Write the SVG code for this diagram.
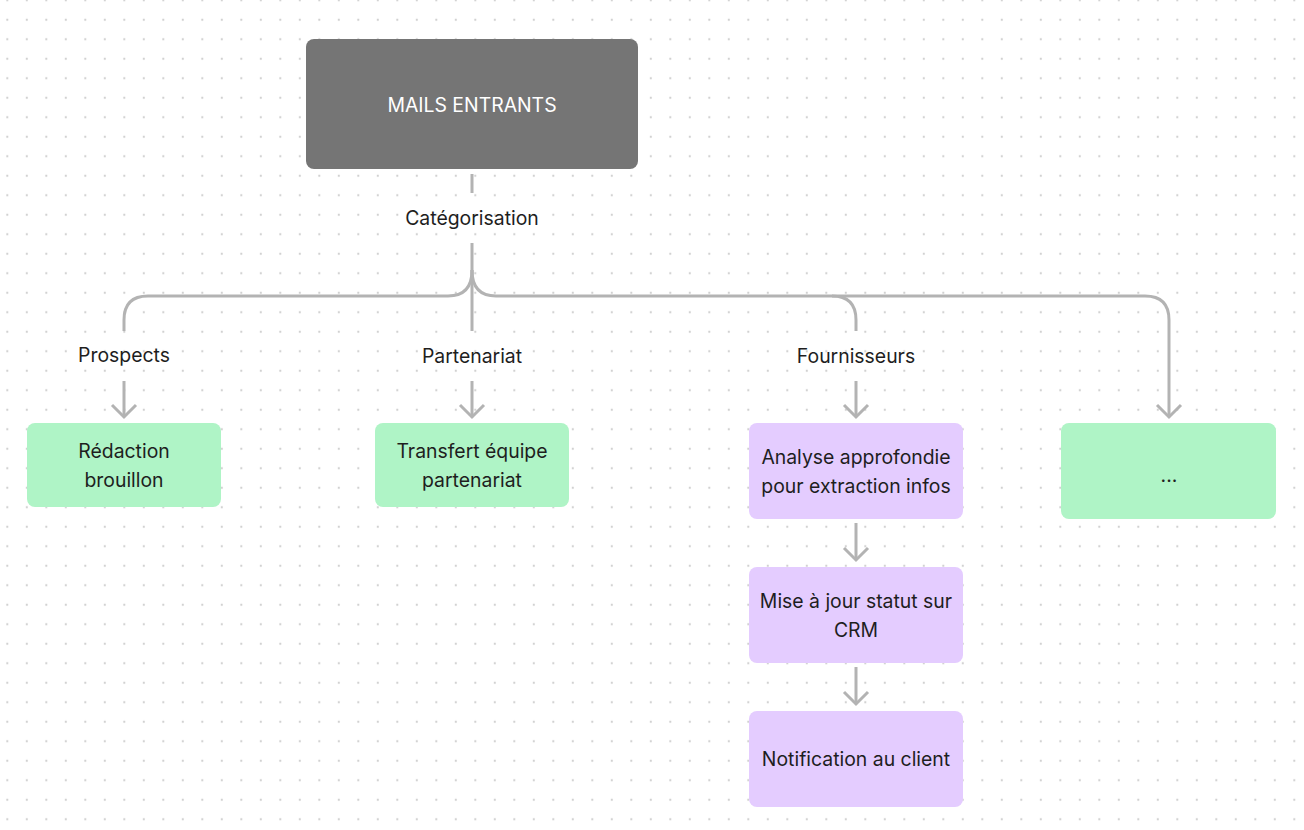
<svg xmlns="http://www.w3.org/2000/svg" width="1304" height="830" viewBox="0 0 1304 830">
<defs>
<pattern id="dots" patternUnits="userSpaceOnUse" x="-2.45" y="-9.45" width="19.5" height="19.5">
<circle cx="9.75" cy="9.75" r="1.1" fill="#cfcfcf"/>
</pattern>
<style>
.bg{fill:url(#dots)}
.link{fill:none;stroke:#b3b3b3;stroke-width:3;stroke-linecap:butt;stroke-linejoin:round}
.head{fill:none;stroke:#b3b3b3;stroke-width:3;stroke-linejoin:miter}
.lbl{font-family:Inter,"Liberation Sans",sans-serif;font-size:19.4px;fill:#1e1e1e;text-anchor:middle;dominant-baseline:central}
.t{font-family:Inter,"Liberation Sans",sans-serif;font-size:19.4px;fill:#1e1e1e;text-anchor:middle;dominant-baseline:central}
.tw{font-family:Inter,"Liberation Sans",sans-serif;font-size:19.4px;fill:#ffffff;text-anchor:middle;dominant-baseline:central}
.green{fill:#aff4c6}
.purple{fill:#e4ccff}
.dark{fill:#757575}
</style>
</defs>
<rect width="1304" height="830" fill="#ffffff"/>
<rect width="1304" height="830" class="bg"/>

<g id="connectors">
<path class="link" d="M472 174 V193"/>
<path class="link" d="M472 243 V331"/>
<path class="link" d="M472 270 Q472 296 448 296 H148 Q124 296 124 320 V331"/>
<path class="link" d="M472 270 Q472 296 496 296 H832 Q856 296 856 320 V331"/>
<path class="link" d="M832 296 H1145 Q1169 296 1169 320 V417"/>
<path class="link" d="M124 381 V417"/>
<path class="head" d="M112 405 L124 417 L136 405"/>
<path class="link" d="M472 381 V417"/>
<path class="head" d="M460 405 L472 417 L484 405"/>
<path class="link" d="M856 381 V417"/>
<path class="head" d="M844 405 L856 417 L868 405"/>
<path class="head" d="M1157 405 L1169 417 L1181 405"/>
<path class="link" d="M856 523 V560"/>
<path class="head" d="M844 548 L856 560 L868 548"/>
<path class="link" d="M856 667 V704"/>
<path class="head" d="M844 692 L856 704 L868 692"/>
<text class="lbl" x="472" y="218">Catégorisation</text>
<text class="lbl" x="124" y="355">Prospects</text>
<text class="lbl" x="472" y="356">Partenariat</text>
<text class="lbl" x="856" y="356">Fournisseurs</text>
</g>

<g id="mails-entrants">
<rect class="dark" x="306" y="39" width="332" height="130" rx="8"/>
<text class="tw" x="472" y="105">MAILS ENTRANTS</text>
</g>

<g id="redaction-brouillon">
<rect class="green" x="27" y="423" width="194" height="84" rx="8"/>
<text class="t" x="124" y="451">Rédaction</text>
<text class="t" x="124" y="480">brouillon</text>
</g>

<g id="transfert-equipe">
<rect class="green" x="375" y="423" width="194" height="84" rx="8"/>
<text class="t" x="472" y="451">Transfert équipe</text>
<text class="t" x="472" y="480">partenariat</text>
</g>

<g id="analyse">
<rect class="purple" x="749" y="423" width="214" height="96" rx="8"/>
<text class="t" x="856" y="457">Analyse approfondie</text>
<text class="t" x="856" y="486">pour extraction infos</text>
</g>

<g id="mise-a-jour">
<rect class="purple" x="749" y="567" width="214" height="96" rx="8"/>
<text class="t" x="856" y="601">Mise à jour statut sur</text>
<text class="t" x="856" y="630">CRM</text>
</g>

<g id="notification">
<rect class="purple" x="749" y="711" width="214" height="96" rx="8"/>
<text class="t" x="856" y="759">Notification au client</text>
</g>

<g id="autres">
<rect class="green" x="1061" y="423" width="215" height="96" rx="8"/>
<text class="t" x="1169" y="475">...</text>
</g>
</svg>
